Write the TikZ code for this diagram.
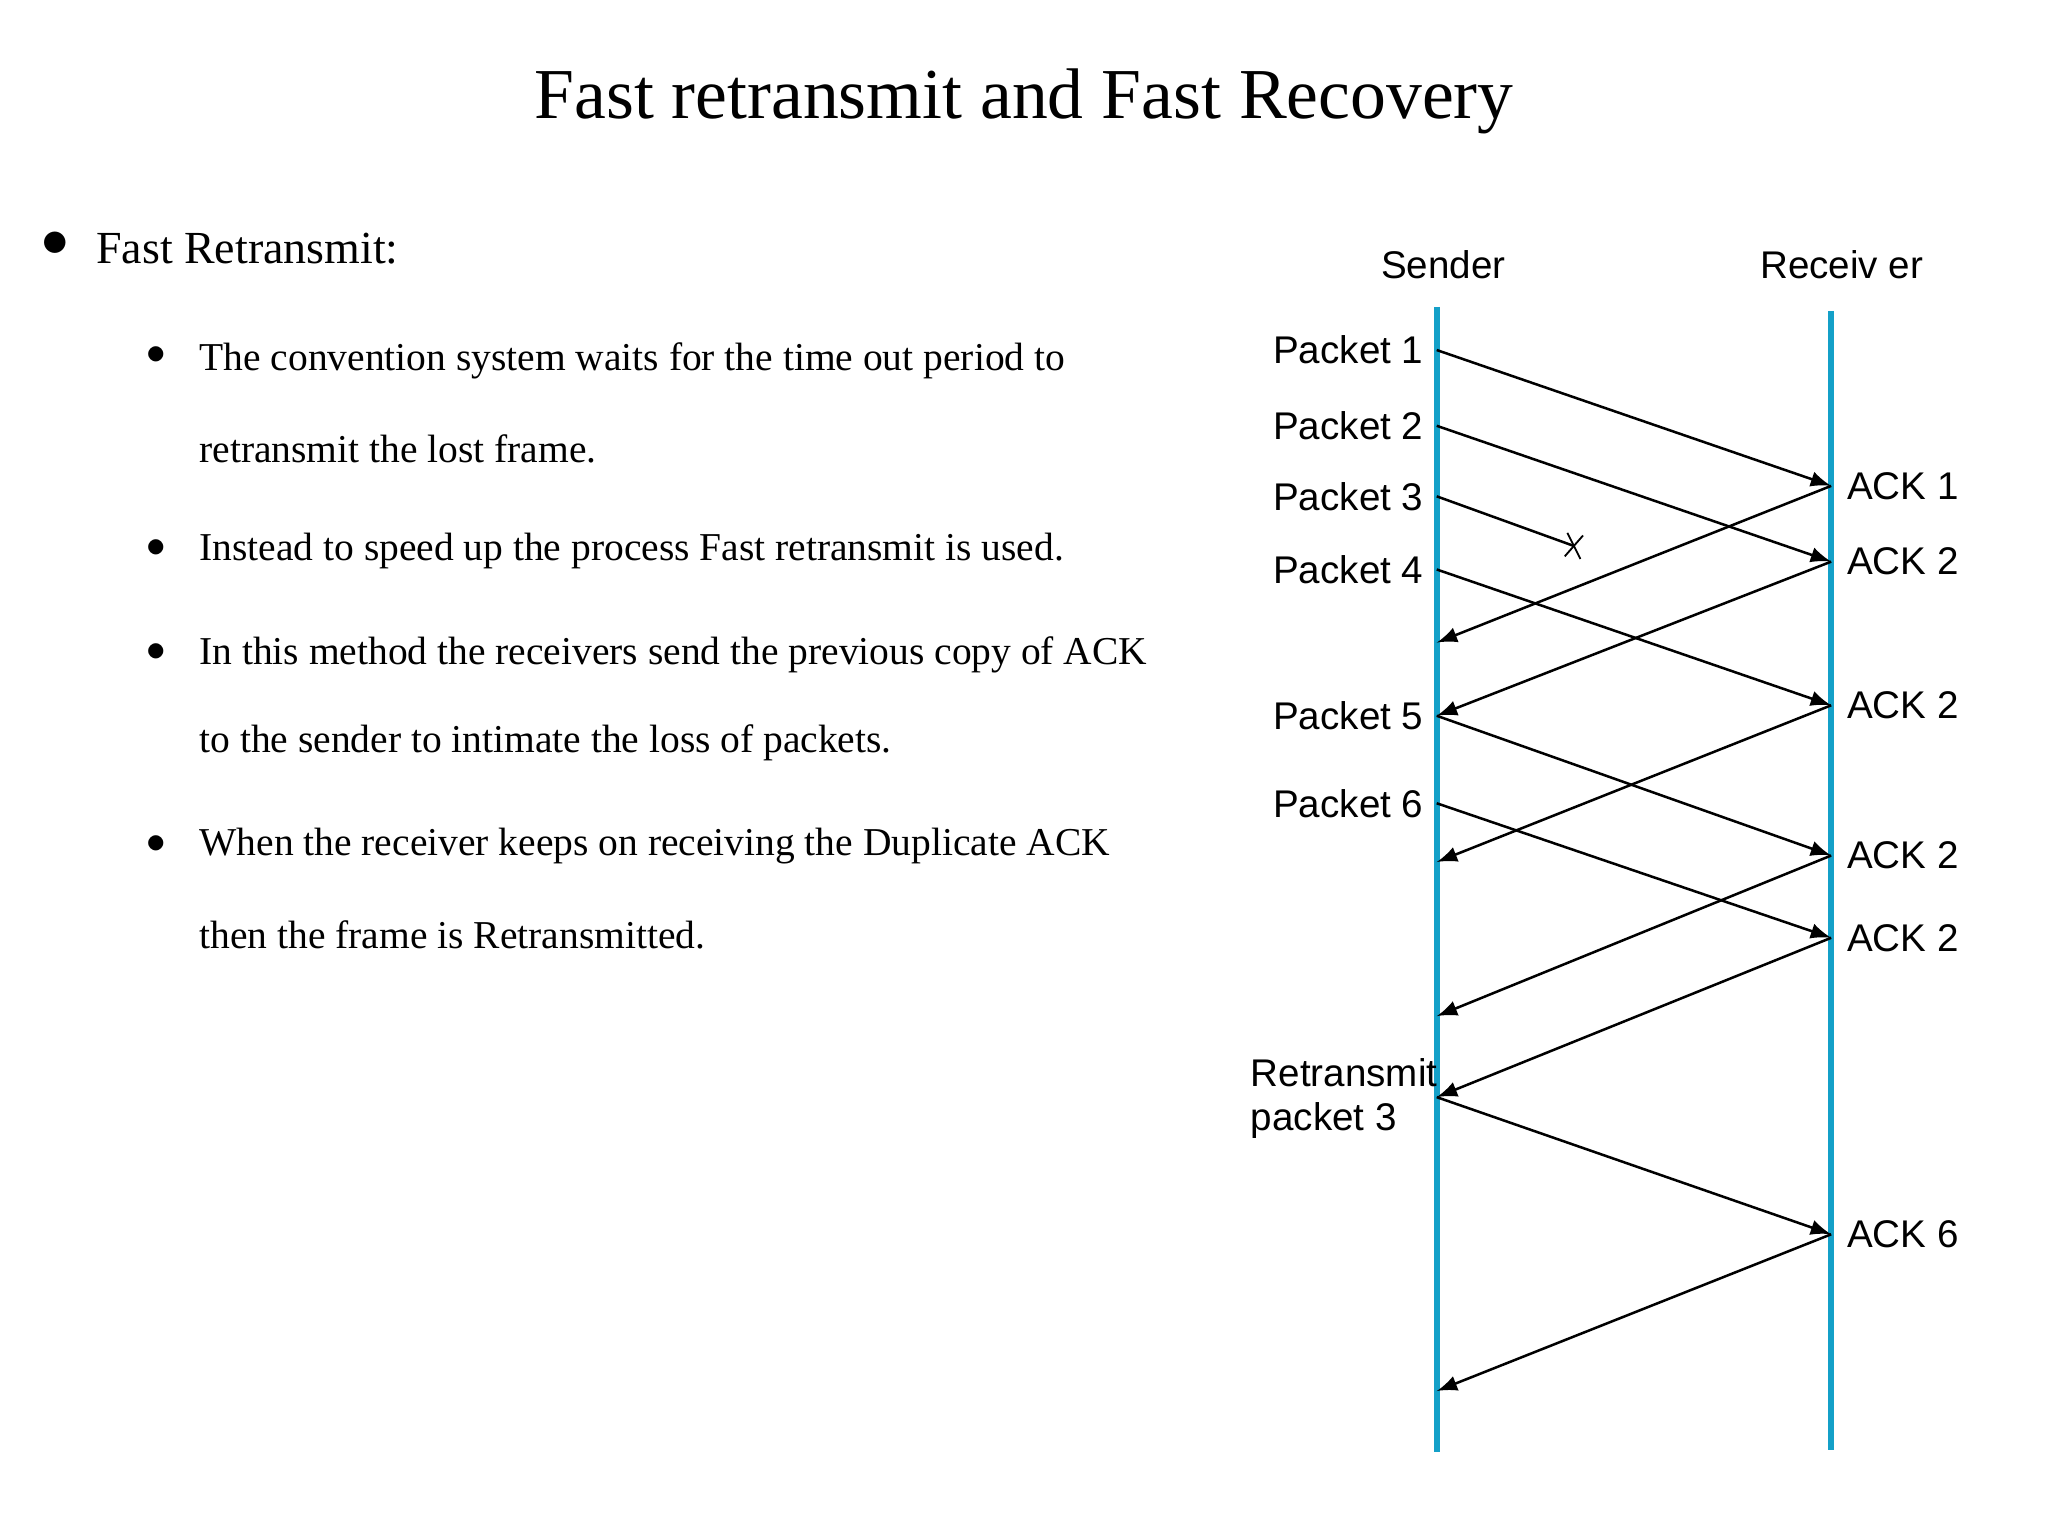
\documentclass[tikz,border=0pt]{standalone}
\usepackage{fontspec}
\setmainfont{Liberation Serif}
\newfontfamily\diag{Liberation Sans}
\usetikzlibrary{arrows}
\definecolor{timeline}{RGB}{20,160,200}
\begin{document}
\begin{tikzpicture}[x=0.01cm,y=-0.01cm,
  msg/.style={draw,-latex,line width=0.55pt},
  lbl/.style={font=\diag\fontsize{8.4}{9.5}\selectfont,inner sep=1pt},
  body/.style={anchor=west,font=\fontsize{8.6}{10}\selectfont,inner sep=0pt}]
\useasboundingbox (0,0) rectangle (1568,1176);
\node[font=\fontsize{15.6}{17}\selectfont] (title) at (784,78) {Fast retransmit and Fast Recovery};
% bullets
\node[font=\fontsize{12}{12}\selectfont] (b0) at (42,187) {$\bullet$};
\node[body,font=\fontsize{10}{12}\selectfont] (t0) at (73,190) {Fast Retransmit:};
\foreach \y/\t [count=\i] in {276/The convention system waits for the time out period to,
  344/retransmit the lost frame.,
  422/Instead to speed up the process Fast retransmit is used.,
  501/In this method the receivers send the previous copy of ACK,
  569/to the sender to intimate the loss of packets.,
  648/When the receiver keeps on receiving the Duplicate ACK,
  716/then the frame is Retransmitted.}
  \node[body] (t\i) at (152,\y) {\t};
\foreach \y [count=\i] in {272,420,499,646}
  \node[font=\fontsize{8}{8}\selectfont] (d\i) at (120,\y) {$\bullet$};
% time lines
\node[lbl] (sender) at (1105,203) {Sender};
\node[lbl] (receiver) at (1410,203) {Receiv er};
\coordinate (stop) at (1100,235); \coordinate (sbot) at (1100,1112);
\coordinate (rtop) at (1402,238); \coordinate (rbot) at (1402,1110);
\draw[timeline,line width=1.3pt] (stop) -- (sbot);
\draw[timeline,line width=1.3pt] (rtop) -- (rbot);
% end points
\foreach \n/\y in {p1/268,p2/326,p3/380,p4/436,p5/548,p6/615,p7/840,
  a1/492,a3/660,a4/778,a6/1065}
  \coordinate (s\n) at (1100,\y);
\foreach \n/\y in {a1/372,a2/430,a3/540,a4/655,a5/718,a6/945}
  \coordinate (r\n) at (1402,\y);
\coordinate (lost) at (1205,418);
% labels
\foreach \n/\t in {p1/Packet 1,p2/Packet 2,p3/Packet 3,p4/Packet 4,p5/Packet 5,p6/Packet 6}
  \node[lbl,anchor=east] (l\n) at ([xshift=-0.06cm]s\n) {\t};
\node[lbl,anchor=north west,align=left,inner sep=0pt] (lp7) at (957,810) {Retransmit\\packet 3};
\foreach \n/\t in {a1/ACK 1,a2/ACK 2,a3/ACK 2,a4/ACK 2,a5/ACK 2,a6/ACK 6}
  \node[lbl,anchor=west] (l\n) at ([xshift=0.08cm]r\n) {\t};
% messages
\draw[msg] (sp1) -- (ra1);
\draw[msg] (sp2) -- (ra2);
\draw[line width=0.55pt] (sp3) -- (lost);
\draw[thin] ([shift={(-5,-10)}]lost) -- ([shift={(5,10)}]lost);
\draw[thin] ([shift={(-7,8)}]lost) -- ([shift={(7,-8)}]lost);
\draw[msg] (sp4) -- (ra3);
\draw[msg] (ra1) -- (sa1);
\draw[msg] (ra2) -- (sp5);
\draw[msg] (ra3) -- (sa3);
\draw[msg] (sp5) -- (ra4);
\draw[msg] (sp6) -- (ra5);
\draw[msg] (ra4) -- (sa4);
\draw[msg] (ra5) -- (sp7);
\draw[msg] (sp7) -- (ra6);
\draw[msg] (ra6) -- (sa6);
\end{tikzpicture}
\end{document}
